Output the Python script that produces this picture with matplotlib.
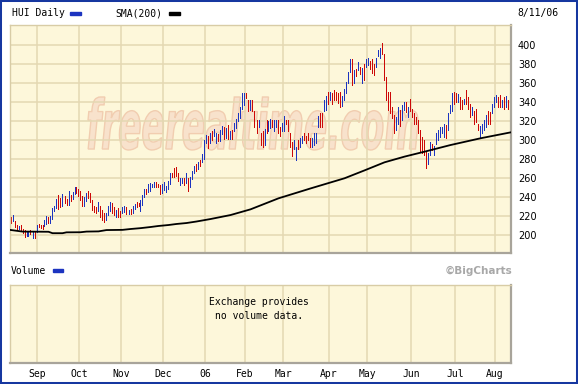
import matplotlib
matplotlib.use("Agg")
import matplotlib.pyplot as plt
from matplotlib.patches import Rectangle, PathPatch
from matplotlib.textpath import TextPath
from matplotlib.font_manager import FontProperties
from matplotlib.transforms import Affine2D, IdentityTransform

W, H = 578, 384

# daily bars, Aug 15 2005 .. Aug 11 2006 (trading day index)
lows = [213, 215, 208, 206, 206, 204, 202, 198, 199, 199, 201, 197, 197, 203, 208, 207, 206, 209, 212, 213,
        213, 217, 225, 228, 227, 229, 231, 234, 232, 232, 236, 238, 243, 244, 241, 237, 231, 230, 236, 239,
        235, 226, 224, 223, 225, 219, 216, 214, 216, 221, 225, 223, 221, 219, 219, 219, 223, 224, 222, 222,
        222, 223, 227, 229, 230, 225, 232, 240, 243, 245, 246, 250, 251, 251, 250, 243, 244, 247, 245, 248,
        254, 261, 261, 262, 257, 253, 255, 253, 255, 246, 251, 259, 265, 267, 269, 273, 277, 280, 297, 292,
        297, 300, 304, 297, 299, 299, 306, 301, 302, 301, 301, 301, 309, 313, 320, 323, 333, 337, 344, 330,
        332, 330, 314, 307, 314, 295, 293, 295, 307, 309, 313, 314, 309, 314, 307, 304, 309, 309, 317, 309,
        293, 283, 290, 279, 290, 293, 297, 300, 297, 300, 293, 293, 295, 297, 314, 314, 314, 330, 332, 338,
        342, 338, 342, 342, 339, 335, 336, 342, 349, 360, 372, 358, 360, 367, 374, 369, 360, 363, 377, 379,
        375, 371, 368, 377, 388, 386, 391, 363, 342, 332, 328, 323, 307, 310, 317, 315, 321, 332, 329, 324,
        331, 324, 317, 317, 307, 288, 286, 284, 270, 275, 284, 289, 284, 296, 300, 303, 307, 303, 302, 310,
        328, 331, 338, 340, 340, 333, 333, 338, 338, 333, 324, 326, 317, 319, 310, 303, 307, 310, 314, 317,
        317, 328, 335, 340, 335, 335, 335, 333, 335, 333, 329]
highs = [219, 221, 215, 210, 209, 210, 206, 205, 203, 203, 205, 203, 204, 211, 212, 211, 211, 216, 220, 219,
         220, 228, 231, 238, 242, 239, 243, 241, 238, 246, 242, 245, 250, 251, 248, 246, 241, 240, 244, 246,
         244, 237, 231, 229, 235, 230, 226, 223, 223, 230, 235, 234, 229, 226, 228, 225, 229, 230, 229, 226,
         227, 230, 233, 235, 234, 237, 242, 248, 248, 254, 255, 254, 256, 256, 254, 253, 254, 256, 252, 257,
         265, 265, 270, 272, 265, 260, 260, 260, 265, 260, 261, 267, 273, 275, 277, 279, 285, 300, 305, 304,
         307, 309, 312, 307, 306, 310, 315, 314, 313, 316, 309, 311, 318, 322, 328, 335, 349, 349, 349, 342,
         342, 342, 330, 321, 321, 307, 309, 312, 321, 320, 322, 321, 321, 321, 321, 314, 318, 325, 321, 321,
         307, 298, 300, 293, 300, 302, 304, 307, 304, 307, 302, 302, 307, 307, 325, 328, 328, 342, 346, 351,
         351, 349, 353, 351, 349, 350, 346, 354, 361, 372, 385, 385, 374, 375, 382, 377, 376, 380, 385, 386,
         383, 385, 380, 386, 395, 397, 402, 391, 366, 350, 350, 335, 326, 324, 335, 332, 337, 340, 340, 335,
         343, 333, 328, 324, 321, 310, 303, 300, 288, 286, 298, 296, 294, 307, 310, 314, 314, 317, 316, 328,
         337, 349, 350, 349, 348, 345, 342, 343, 353, 345, 338, 335, 331, 333, 317, 315, 317, 321, 326, 331,
         329, 338, 345, 347, 345, 347, 342, 345, 346, 342, 342]
# u = up day (blue), d = down day (red), ten days per chunk
updown = "".join([
    "dudduddduu", "dududdduud", "uuuudduddu", "duudddduud", "dddduddduu",
    "uddudduudu", "duudduuudu", "uuuddduuuu", "udddduudud", "uuududuuud",
    "uduuduudud", "uduuuuuudd", "uddduddudu", "uduudduudd", "dduuduuddd",
    "duuuudduud", "uddddduuuu", "ududududuu", "ddduuudddd", "ddduuduudu",
    "dddddddddu", "uduuuuuudu", "uudduddudd", "duddduuuud", "duuuddudud",
    "d"])

# SMA(200) read at a few points along the line
sma_idx = [0, 6, 19, 21, 26, 28, 35, 38, 44, 48, 56, 60, 65, 70, 74, 79, 83, 88, 93, 100,
           110, 120, 134, 150, 167, 177, 187, 197, 207, 220, 235, 250]
sma_val = [205.3, 203.6, 203.4, 201.9, 201.9, 202.8, 202.9, 203.6, 203.8, 205.2, 205.4, 206.3,
           207.2, 208.4, 209.5, 210.5, 211.6, 212.6, 214.2, 216.8, 221.0, 227.0, 238.6, 249.0,
           259.7, 268.0, 276.5, 282.5, 287.7, 294.7, 301.8, 308.0]

month_labels = ['Sep', 'Oct', 'Nov', 'Dec', '06', 'Feb', 'Mar', 'Apr', 'May', 'Jun', 'Jul', 'Aug']
month_start = [13, 34, 55, 76, 97, 117, 136, 159, 178, 200, 222, 242]
yticks = [200, 220, 240, 260, 280, 300, 320, 340, 360, 380, 400]

BLUE = '#1c34c0'
RED = '#cc0808'
PANEL = '#fdf7da'
GRID = '#e4d8b2'
BORDER = '#1637a0'
MONO = 'DejaVu Sans Mono'


def fx(x):
    return x / W


def fy(y):
    return 1 - y / H


def style_panel(ax):
    ax.set_facecolor(PANEL)
    for s in ['left', 'top']:
        ax.spines[s].set_color('#d8cca6')
        ax.spines[s].set_linewidth(1)
    for s in ['right', 'bottom']:
        ax.spines[s].set_color('#a8a49a')
        ax.spines[s].set_linewidth(1.6)
    for m in month_start:
        ax.axvline(m + 0.25, color=GRID, lw=1.1, zorder=1)


fig = plt.figure(figsize=(W / 100, H / 100), dpi=100)

# price panel, 2 px per trading day
ax = fig.add_axes([fx(10), fy(253), fx(501), 228 / H])
style_panel(ax)
ax.set_xlim(-0.25, 250.25)
ax.set_ylim(181.05, 421.05)
for v in yticks:
    ax.axhline(v, color=GRID, lw=1.1, zorder=1)

# watermark
tp = TextPath((0, 0), "freerealtime.com", size=100,
              prop=FontProperties(family='DejaVu Sans', weight='bold', style='italic'))
bb = tp.get_extents()
tr = Affine2D().translate(-bb.x0, -bb.y0).scale(330 / bb.width, 53 / bb.height).translate(88, H - 150)
wm = PathPatch(tr.transform_path(tp), facecolor='#f8e2cc', edgecolor='#f1cdb0', lw=1.0,
               transform=IdentityTransform(), zorder=0.8)
ax.add_patch(wm)

idx = list(range(len(lows)))
colors = [BLUE if c == 'u' else RED for c in updown]
ax.vlines(idx, lows, highs, colors=colors, lw=0.72, zorder=2, antialiased=False)
ax.plot(sma_idx, sma_val, color='black', lw=1.3, zorder=3)

ax.set_xticks([])
ax.yaxis.tick_right()
ax.set_yticks(yticks)
ax.set_yticklabels([str(v) for v in yticks], fontsize=7, family='DejaVu Sans')
ax.tick_params(axis='y', length=0, pad=5)

# volume panel
vax = fig.add_axes([fx(10), fy(363), fx(501), 78 / H])
style_panel(vax)
vax.set_xlim(-0.25, 250.25)
vax.set_ylim(0, 1)
vax.set_yticks([])
vax.set_xticks([m + 0.25 for m in month_start])
vax.set_xticklabels(month_labels, fontsize=7, family=MONO)
vax.tick_params(axis='x', length=0, pad=4)
vax.text(0.497, 0.69, "Exchange provides\nno volume data.", transform=vax.transAxes,
         ha='center', va='center', fontsize=7, family=MONO, linespacing=1.45)

# header texts and legend keys
fig.text(fx(12), fy(13), "HUI Daily", fontsize=7, family=MONO, va='center')
fig.patches.append(Rectangle((fx(70), fy(14.5)), fx(11), 3 / H, color=BLUE,
                             transform=fig.transFigure, figure=fig))
fig.text(fx(115), fy(13), "SMA(200)", fontsize=7, family=MONO, va='center')
fig.patches.append(Rectangle((fx(169), fy(14.5)), fx(11), 3 / H, color='black',
                             transform=fig.transFigure, figure=fig))
fig.text(fx(517), fy(13), "8/11/06", fontsize=7, family=MONO, va='center')

fig.text(fx(11), fy(270.5), "Volume", fontsize=7, family=MONO, va='center')
fig.patches.append(Rectangle((fx(53), fy(272)), fx(10), 3 / H, color=BLUE,
                             transform=fig.transFigure, figure=fig))
fig.text(fx(512), fy(270.5), "\u00a9BigCharts", fontsize=7.5, weight='bold',
         color='#a8a8a8', ha='right', va='center', family='DejaVu Sans')

# outer blue frame
fig.patches.append(Rectangle((0, 0), 1, 1, fill=False, edgecolor=BORDER, lw=2.9,
                             transform=fig.transFigure, figure=fig))

fig.savefig('out.png', dpi=100)
